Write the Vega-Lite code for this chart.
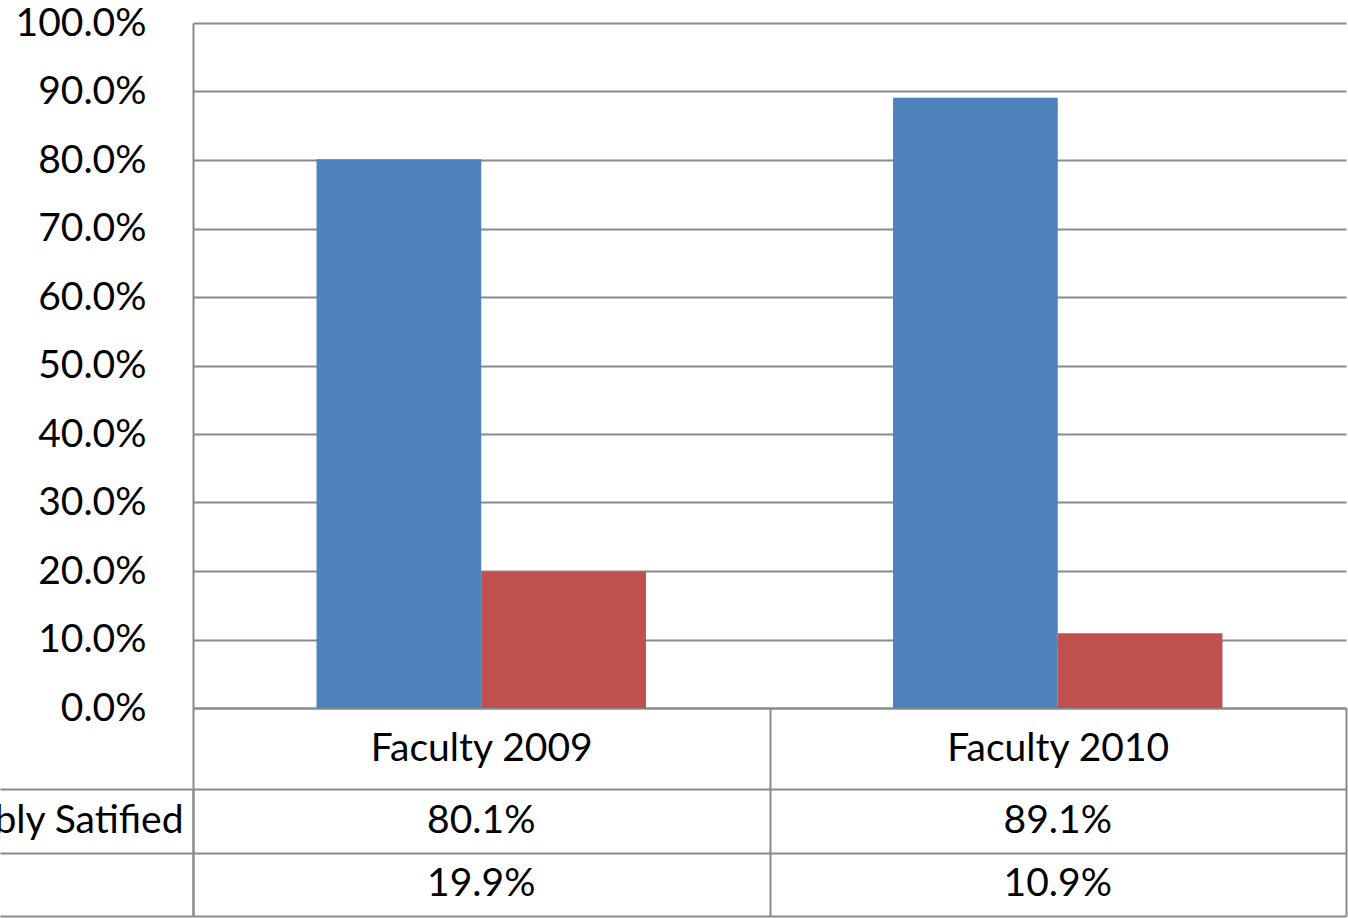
{
  "$schema": "https://vega.github.io/schema/vega-lite/v6.json",
  "width": 1153,
  "height": 685,
  "autosize": {"type": "none"},
  "padding": {"left": 193, "top": 23, "right": 2, "bottom": 211},
  "background": "white",
  "config": {
    "view": {"stroke": null},
    "font": "Lato",
    "text": {"font": "Lato", "fontSize": 39, "color": "#000000"}
  },
  "data": {
    "values": [
      {"category": "Faculty 2009", "series": "Reasonably Satified", "value": 0.801},
      {"category": "Faculty 2009", "series": "Not Satisfied", "value": 0.199},
      {"category": "Faculty 2010", "series": "Reasonably Satified", "value": 0.891},
      {"category": "Faculty 2010", "series": "Not Satisfied", "value": 0.109}
    ]
  },
  "encoding": {
    "x": {
      "field": "category",
      "type": "nominal",
      "sort": ["Faculty 2009", "Faculty 2010"],
      "scale": {"paddingInner": 0, "paddingOuter": 0},
      "axis": {
        "orient": "bottom",
        "title": null,
        "labelAngle": 0,
        "tickBand": "extent",
        "ticks": true,
        "tickSize": 208,
        "tickColor": "#8a8a8a",
        "tickWidth": 2,
        "domain": true,
        "domainColor": "#8a8a8a",
        "domainWidth": 2,
        "grid": false,
        "labelPadding": -167.5,
        "labelBaseline": "middle",
        "labelFont": "Lato",
        "labelFontSize": 39,
        "labelColor": "#000000",
        "labelLimit": 0,
        "labelOverlap": false
      }
    }
  },
  "layer": [
    {
      "mark": {"type": "bar"},
      "encoding": {
        "xOffset": {
          "field": "series",
          "type": "nominal",
          "sort": ["Reasonably Satified", "Not Satisfied"],
          "scale": {"paddingInner": 0, "paddingOuter": 0.75}
        },
        "y": {
          "field": "value",
          "type": "quantitative",
          "scale": {"domain": [0, 1], "nice": false},
          "axis": {
            "orient": "left",
            "title": null,
            "format": ".1%",
            "tickCount": 10,
            "ticks": false,
            "labelPadding": 47,
            "labelFont": "Lato",
            "labelFontSize": 39,
            "labelColor": "#000000",
            "labelLimit": 0,
            "labelOverlap": false,
            "labelFlush": false,
            "domain": true,
            "domainColor": "#8a8a8a",
            "domainWidth": 2,
            "grid": true,
            "gridColor": "#8a8a8a",
            "gridWidth": 2
          }
        },
        "color": {
          "field": "series",
          "type": "nominal",
          "scale": {"domain": ["Reasonably Satified", "Not Satisfied"], "range": ["#4F81BD", "#C0504D"]},
          "legend": null
        }
      }
    },
    {
      "mark": {"type": "text", "baseline": "middle", "align": "center"},
      "encoding": {
        "y": {
          "field": "series",
          "type": "nominal",
          "scale": {"domain": ["Reasonably Satified", "Not Satisfied"], "range": [766, 893], "paddingInner": 0, "paddingOuter": 0},
          "axis": {
            "orient": "left",
            "title": null,
            "tickBand": "extent",
            "ticks": true,
            "tickSize": 193,
            "tickColor": "#8a8a8a",
            "tickWidth": 2,
            "grid": true,
            "gridColor": "#8a8a8a",
            "gridWidth": 2,
            "domain": true,
            "domainColor": "#8a8a8a",
            "domainWidth": 2,
            "labelAlign": "right",
            "labelBaseline": "middle",
            "labelPadding": -183,
            "labelFont": "Lato",
            "labelFontSize": 39,
            "labelColor": "#000000",
            "labelLimit": 0,
            "labelOverlap": false,
            "labelExpr": "datum.value == 'Reasonably Satified' ? datum.value : ''"
          }
        },
        "text": {"field": "value", "type": "quantitative", "format": ".1%"}
      }
    }
  ],
  "resolve": {"scale": {"y": "independent"}, "axis": {"y": "independent"}}
}
